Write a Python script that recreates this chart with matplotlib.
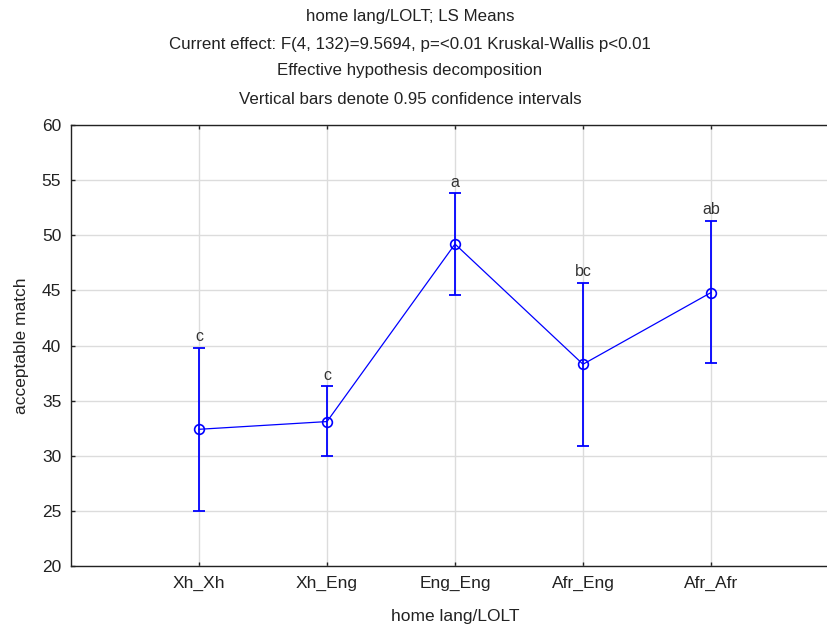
import matplotlib
matplotlib.use("Agg")
import matplotlib.pyplot as plt

plt.rcParams['font.family'] = ['Liberation Sans', 'DejaVu Sans']

categories = ["Xh_Xh", "Xh_Eng", "Eng_Eng", "Afr_Eng", "Afr_Afr"]
means = [32.4, 33.1, 49.2, 38.3, 44.8]
ci_upper = [39.8, 36.3, 53.8, 45.7, 51.3]
ci_lower = [25.0, 29.95, 44.6, 30.9, 38.4]
letters = ["c", "c", "a", "bc", "ab"]
title_lines = [
    "home lang/LOLT; LS Means",
    "Current effect: F(4, 132)=9.5694, p=<0.01 Kruskal-Wallis p<0.01",
    "Effective hypothesis decomposition",
    "Vertical bars denote 0.95 confidence intervals",
]
yticks = [20, 25, 30, 35, 40, 45, 50, 55, 60]

W, H = 828, 630
fig = plt.figure(figsize=(W / 100, H / 100), dpi=100)
ax = fig.add_axes([71 / W, (H - 566) / H, 768 / W, 441 / H])

x = list(range(1, len(categories) + 1))
yerr = [[m - l for m, l in zip(means, ci_lower)],
        [u - m for m, u in zip(means, ci_upper)]]
blue = '#0000ff'
ax.errorbar(x, means, yerr=yerr, fmt='none', ecolor=blue, elinewidth=1.3,
            capsize=4.6, capthick=1.3, zorder=3)
ax.plot(x, means, color=blue, lw=0.9, marker='o', ms=7, mfc='none',
        mec=blue, mew=1.2, zorder=4)

for xi, u, t in zip(x, ci_upper, letters):
    ax.annotate(t, (xi, u), xytext=(0, 2.5), textcoords='offset points',
                ha='center', va='bottom', fontsize=11.5, color='#333333')

ax.set_xlim(0, 6)
ax.set_ylim(20, 60)
ax.set_xticks(x)
ax.set_xticklabels(categories)
ax.set_yticks(yticks)
ax.grid(True, color='#dcdcdc', lw=1.0)
ax.set_axisbelow(True)
ax.tick_params(direction='in', length=3, width=1, top=True, right=True,
               labelsize=12.5, colors='#222222', pad=7)
for s in ax.spines.values():
    s.set_color('#222222')
    s.set_linewidth(1.0)

ax.set_ylabel("acceptable match", fontsize=12.5, color='#222222', labelpad=9)
ax.set_xlabel("home lang/LOLT", fontsize=12.5, color='#222222', labelpad=13)

ys = [17, 44, 71, 99]
for t, yy in zip(title_lines, ys):
    fig.text(410 / W, 1 - yy / H, t, ha='center', va='center', fontsize=12.2,
             color='#222222')

fig.savefig("out.png", dpi=100)
